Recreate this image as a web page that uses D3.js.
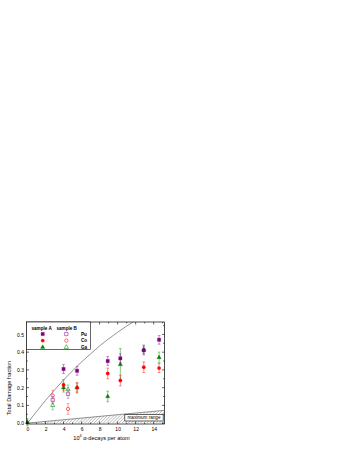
<!DOCTYPE html>
<html>
<head>
<meta charset="utf-8">
<script src="https://cdn.jsdelivr.net/npm/d3@7"></script>
<style>
  body { margin: 0; background: #fff; }
  svg { display: block; font-family: 'Liberation Sans', Arial, sans-serif; }
</style>
</head>
<body>
<div id="chart"></div>
<script>
// Sample A (filled markers): [decays, fraction, error]
const puA = [[4.0, 0.305, 0.025], [5.5, 0.295, 0.025], [8.9, 0.35, 0.025], [10.3, 0.365, 0.025], [12.9, 0.41, 0.025], [14.6, 0.47, 0.025]];
const coA = [[4.0, 0.215, 0.03], [5.5, 0.20, 0.03], [8.9, 0.28, 0.03], [10.3, 0.24, 0.03], [12.9, 0.315, 0.03], [14.6, 0.31, 0.025]];
const gaA = [[0.0, 0.005, 0.02], [4.0, 0.20, 0.025], [5.5, 0.20, 0.025], [8.9, 0.15, 0.03], [10.3, 0.33, 0.09], [12.9, 0.415, 0.025], [14.6, 0.37, 0.03]];
// Sample B (open markers)
const puB = [[2.8, 0.13, 0.02], [4.5, 0.165, 0.025]];
const coB = [[2.8, 0.155, 0.03], [4.5, 0.08, 0.03]];
const gaB = [[2.8, 0.10, 0.025], [4.5, 0.19, 0.025]];

// saturation curve
const curvePts = [[0, 0], [1, 0.065], [2, 0.128], [3, 0.187], [4, 0.243], [5, 0.295], [6, 0.345], [7, 0.39], [8, 0.435], [9, 0.475], [10, 0.512], [11, 0.547], [12, 0.58]];
// upper edge of the hatched "maximum range"
const rangePts = [[0, 0], [15.2, 0.072]];

const xTicks = [0, 2, 4, 6, 8, 10, 12, 14];
const yTicks = [0.0, 0.1, 0.2, 0.3, 0.4, 0.5];

const W = 349, H = 452;
const box = { left: 26.5, right: 164.5, top: 322, bottom: 424 };

const svg = d3.select('#chart').append('svg').attr('width', W).attr('height', H);

const x = d3.scaleLinear().domain([-0.11, 15.2]).range([box.left, box.right]);
const y = d3.scaleLinear().domain([-0.005, 0.57]).range([box.bottom, box.top]);

svg.append('defs').call(defs => {
    defs.append('clipPath').attr('id', 'plot')
        .append('rect')
        .attr('x', box.left).attr('y', box.top)
        .attr('width', box.right - box.left).attr('height', box.bottom - box.top);
    defs.append('pattern').attr('id', 'hatch')
        .attr('patternUnits', 'userSpaceOnUse')
        .attr('width', 2.2).attr('height', 2.2)
        .attr('patternTransform', 'rotate(45)')
        .append('line')
        .attr('x1', 0).attr('y1', 0).attr('x2', 0).attr('y2', 2.2)
        .attr('stroke', '#555').attr('stroke-width', 0.6);
});

const plot = svg.append('g').attr('clip-path', 'url(#plot)');

// hatched region
const area = d3.area().x(d => x(d[0])).y0(y(0)).y1(d => y(d[1]));
plot.append('path').datum(rangePts).attr('d', area).attr('fill', 'url(#hatch)');
plot.append('path').datum(rangePts)
    .attr('d', d3.line().x(d => x(d[0])).y(d => y(d[1])))
    .attr('fill', 'none').attr('stroke', '#666').attr('stroke-width', 0.7);

// curve
plot.append('path').datum(curvePts)
    .attr('d', d3.line().x(d => x(d[0])).y(d => y(d[1])).curve(d3.curveMonotoneX))
    .attr('fill', 'none').attr('stroke', '#777').attr('stroke-width', 0.8);

// "maximum range" label box
const lab = svg.append('g');
lab.append('rect')
    .attr('x', x(10.8)).attr('y', y(0.048))
    .attr('width', x(15.05) - x(10.8)).attr('height', y(0.012) - y(0.048))
    .attr('fill', '#fff').attr('stroke', '#000').attr('stroke-width', 0.6);
lab.append('text')
    .attr('x', (x(10.8) + x(15.05)) / 2).attr('y', y(0.03) + 1.6)
    .attr('text-anchor', 'middle').attr('font-size', 4.6).attr('fill', '#000')
    .text('maximum range');

const series = [
    { data: gaA, color: '#008000', shape: d3.symbolTriangle, open: false },
    { data: coA, color: '#ff0000', shape: d3.symbolCircle, open: false },
    { data: puA, color: '#800080', shape: d3.symbolSquare, open: false },
    { data: gaB, color: '#30a030', shape: d3.symbolTriangle, open: true },
    { data: coB, color: '#ff3030', shape: d3.symbolCircle, open: true },
    { data: puB, color: '#a040a0', shape: d3.symbolSquare, open: true }
];

const sizeFor = s => s === d3.symbolSquare ? 11 : s === d3.symbolCircle ? 9 : 8;

series.forEach(s => {
    const g = svg.append('g');
    const eb = g.selectAll('g.eb').data(s.data).enter().append('g')
        .attr('stroke', s.color).attr('stroke-width', 0.6).attr('opacity', 0.75);
    eb.append('line')
        .attr('x1', d => x(d[0])).attr('x2', d => x(d[0]))
        .attr('y1', d => y(d[1] - d[2])).attr('y2', d => y(d[1] + d[2]));
    [-1, 1].forEach(sgn => {
        eb.append('line')
            .attr('x1', d => x(d[0]) - 1.3).attr('x2', d => x(d[0]) + 1.3)
            .attr('y1', d => y(d[1] + sgn * d[2])).attr('y2', d => y(d[1] + sgn * d[2]));
    });
    g.selectAll('path.m').data(s.data).enter().append('path')
        .attr('transform', d => `translate(${x(d[0])},${y(d[1])})`)
        .attr('d', d3.symbol().type(s.shape).size(sizeFor(s.shape)))
        .attr('fill', s.open ? '#fff' : s.color)
        .attr('fill-opacity', s.open ? 0.6 : 1)
        .attr('stroke', s.color).attr('stroke-width', s.open ? 0.7 : 0.3);
});

// frame
svg.append('rect')
    .attr('x', box.left).attr('y', box.top)
    .attr('width', box.right - box.left).attr('height', box.bottom - box.top)
    .attr('fill', 'none').attr('stroke', '#000').attr('stroke-width', 0.7);

// inward ticks on all four sides
const ticks = svg.append('g').attr('stroke', '#000').attr('stroke-width', 0.6);
const xMinor = d3.range(0, 16, 1);
const yMinor = d3.range(0, 0.571, 0.05);
xMinor.forEach(v => {
    const len = v % 2 === 0 ? 2.5 : 1.4;
    ticks.append('line').attr('x1', x(v)).attr('x2', x(v)).attr('y1', box.bottom).attr('y2', box.bottom - len);
    ticks.append('line').attr('x1', x(v)).attr('x2', x(v)).attr('y1', box.top).attr('y2', box.top + len);
});
yMinor.forEach((v, i) => {
    const len = i % 2 === 0 ? 2.5 : 1.4;
    ticks.append('line').attr('y1', y(v)).attr('y2', y(v)).attr('x1', box.left).attr('x2', box.left + len);
    ticks.append('line').attr('y1', y(v)).attr('y2', y(v)).attr('x1', box.right).attr('x2', box.right - len);
});

// tick labels via axes (lines hidden)
svg.append('g')
    .attr('transform', `translate(0,${box.bottom})`)
    .call(d3.axisBottom(x).tickValues(xTicks).tickSize(0).tickPadding(3.5).tickFormat(d3.format('d')))
    .call(g => g.select('.domain').remove())
    .call(g => g.selectAll('text').attr('font-size', 5).attr('fill', '#000').attr('font-family', null));

svg.append('g')
    .attr('transform', `translate(${box.left},0)`)
    .call(d3.axisLeft(y).tickValues(yTicks).tickSize(0).tickPadding(2.5).tickFormat(d3.format('.1f')))
    .call(g => g.select('.domain').remove())
    .call(g => g.selectAll('text').attr('font-size', 5).attr('fill', '#000').attr('font-family', null));

// axis titles
svg.append('text')
    .attr('transform', `translate(10.5,${(box.top + box.bottom) / 2 + 15}) rotate(-90)`)
    .attr('text-anchor', 'middle').attr('font-size', 5.6).attr('fill', '#000')
    .text('Total Damage fraction');

const xt = svg.append('text')
    .attr('x', (box.left + box.right) / 2 + 6).attr('y', 439.5)
    .attr('text-anchor', 'middle').attr('font-size', 5.6).attr('fill', '#000');
xt.append('tspan').text('10');
xt.append('tspan').attr('dy', -2.2).attr('font-size', 3.8).text('4');
xt.append('tspan').attr('dy', 2.2).text(' \u03b1-decays per atom');

// legend
const leg = svg.append('g');
leg.append('rect')
    .attr('x', box.left).attr('y', box.top)
    .attr('width', 64).attr('height', 27.5)
    .attr('fill', '#fff').attr('stroke', '#000').attr('stroke-width', 0.6);
leg.append('text').attr('x', 31.5).attr('y', 330).attr('font-size', 4.6).attr('font-weight', 'bold').text('sample A');
leg.append('text').attr('x', 56.5).attr('y', 330).attr('font-size', 4.6).attr('font-weight', 'bold').text('sample B');
const legRows = [
    { name: 'Pu', a: series[2], b: series[5] },
    { name: 'Co', a: series[1], b: series[4] },
    { name: 'Ga', a: series[0], b: series[3] }
];
legRows.forEach((r, i) => {
    const ly = 334 + i * 6.6;
    [[r.a, 42.7], [r.b, 66.3]].forEach(([s, lx]) => {
        leg.append('path')
            .attr('transform', `translate(${lx},${ly})`)
            .attr('d', d3.symbol().type(s.shape).size(sizeFor(s.shape)))
            .attr('fill', s.open ? '#fff' : s.color)
            .attr('stroke', s.color).attr('stroke-width', s.open ? 0.7 : 0.3);
    });
    leg.append('text').attr('x', 81).attr('y', ly + 1.7).attr('font-size', 4.6).attr('font-weight', 'bold').text(r.name);
});
</script>
</body>
</html>
